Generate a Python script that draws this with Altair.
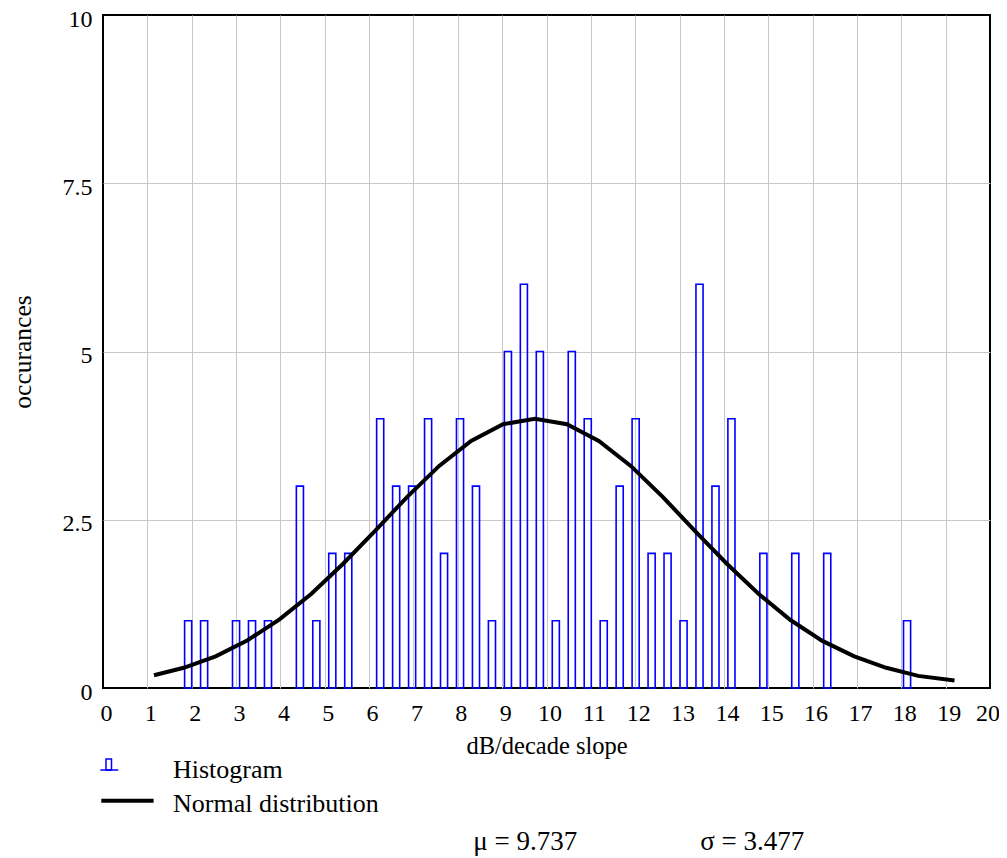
import altair as alt
import pandas as pd

# ---- data ----
bin_centers = [1.92, 2.28, 3.00, 3.36, 3.72, 4.44, 4.81, 5.17, 5.53, 6.25, 6.61, 6.97,
               7.33, 7.69, 8.05, 8.41, 8.77, 9.13, 9.49, 9.85, 10.21, 10.57, 10.93, 11.29,
               11.65, 12.01, 12.37, 12.73, 13.09, 13.45, 13.81, 14.17, 14.89, 15.61, 16.33, 18.13]
counts = [1, 1, 1, 1, 1, 3, 1, 2, 2, 4, 3, 3,
          4, 2, 4, 3, 1, 5, 6, 5, 1, 5, 4, 1,
          3, 4, 2, 2, 1, 6, 3, 4, 2, 2, 2, 1]

curve_x = [1.15, 1.82, 2.54, 3.26, 3.98, 4.70, 5.42, 6.14, 6.86, 7.58, 8.30, 9.02, 9.74,
           10.46, 11.18, 11.90, 12.62, 13.34, 14.06, 14.78, 15.50, 16.22, 16.94, 17.66, 18.38, 19.20]
curve_y = [0.19, 0.30, 0.47, 0.71, 1.02, 1.40, 1.85, 2.34, 2.84, 3.30, 3.67, 3.92, 4.00,
           3.92, 3.67, 3.30, 2.84, 2.34, 1.85, 1.40, 1.01, 0.70, 0.47, 0.30, 0.18, 0.11]

x_ticks = list(range(0, 21))
y_ticks = [0, 2.5, 5, 7.5, 10]
legend_labels = ["Histogram", "Normal distribution"]
stats_labels = ["\u03bc = 9.737", "\u03c3 = 3.477"]

FONT = "Liberation Serif"
BLUE = "#0000ff"
HALF = 0.08  # half bar width in data units (style)

bars_df = pd.DataFrame({"center": bin_centers, "count": counts})
curve_df = pd.DataFrame({"x": curve_x, "y": curve_y})
one = pd.DataFrame({"k": [0]})

xscale = alt.Scale(domain=[0, 20], nice=False, zero=False)
yscale = alt.Scale(domain=[0, 10], nice=False)

xaxis = alt.Axis(values=x_ticks, grid=True, ticks=False, domain=False,
                 gridOpacity=alt.ExprRef(expr="datum.value == 0 || datum.value == 20 ? 0 : 1"),
                 labelFont=FONT, labelFontSize=24, labelColor="black",
                 labelBaseline="alphabetic", labelPadding=32,
                 labelAlign=alt.ExprRef(expr="datum.value == 20 ? 'right' : 'center'"),
                 labelOffset=alt.ExprRef(expr="datum.value == 20 ? 9.5 : 3"),
                 labelFlush=False, labelOverlap=False,
                 title="dB/decade slope", titleFont=FONT, titleFontSize=24.5,
                 titleFontWeight="normal", titleColor="black",
                 titleBaseline="alphabetic", titleY=65)
yaxis = alt.Axis(values=y_ticks, grid=True, ticks=False, domain=False, format="~g",
                 gridOpacity=alt.ExprRef(expr="datum.value == 0 || datum.value == 10 ? 0 : 1"),
                 labelFont=FONT, labelFontSize=24, labelColor="black",
                 labelPadding=11, labelOffset=4, labelFlush=False, labelOverlap=False,
                 title="occurances", titleFont=FONT, titleFontSize=25.5,
                 titleFontWeight="normal", titleColor="black",
                 titleBaseline="alphabetic", titleX=-73)

bars = alt.Chart(bars_df).transform_calculate(
    x0=alt.datum.center - HALF, x1=alt.datum.center + HALF
).mark_rect(filled=False, stroke=BLUE, strokeWidth=1.6).encode(
    x=alt.X("x0:Q", scale=xscale, axis=xaxis),
    x2="x1:Q",
    y=alt.Y("count:Q", scale=yscale, axis=yaxis),
    y2=alt.datum(0),
)

curve = alt.Chart(curve_df).mark_line(color="black", strokeWidth=4).encode(
    x=alt.X("x:Q", scale=xscale),
    y=alt.Y("y:Q", scale=yscale),
)

# legend (drawn manually below the plot)
sym_rect = alt.Chart(one).mark_rect(filled=False, stroke=BLUE, strokeWidth=1.5).encode(
    x=alt.value(3), x2=alt.value(8.5), y=alt.value(744), y2=alt.value(755))
sym_base = alt.Chart(one).mark_rule(color=BLUE, strokeWidth=1.5).encode(
    x=alt.value(-2.7), x2=alt.value(15.3), y=alt.value(755))
sym_line = alt.Chart(one).mark_rule(color="black", strokeWidth=4).encode(
    x=alt.value(-1.7), x2=alt.value(50.6), y=alt.value(785.7))

def text_layer(label, x, y, size):
    return alt.Chart(pd.DataFrame({"t": [label]})).mark_text(
        align="left", baseline="alphabetic", font=FONT, fontSize=size, color="black"
    ).encode(x=alt.value(x), y=alt.value(y), text="t:N")

t_hist = text_layer(legend_labels[0], 70, 763, 26)
t_norm = text_layer(legend_labels[1], 70, 796.7, 26)
t_mu = text_layer(stats_labels[0], 370.3, 834.5, 27)
t_sigma = text_layer(stats_labels[1], 597.3, 834.5, 27)

chart = alt.layer(
    bars, curve, sym_rect, sym_base, sym_line, t_hist, t_norm, t_mu, t_sigma
).properties(
    width=887, height=673,
    autosize=alt.AutoSizeParams(type="none"),
    padding={"left": 95, "top": 7, "right": 9, "bottom": 169},
    background="white",
).configure_view(
    stroke="black", strokeWidth=2
).configure_axis(
    gridColor="#c8c8c8", gridWidth=1
)

chart.save("out.html", embed_options={"renderer": "svg", "actions": False})
